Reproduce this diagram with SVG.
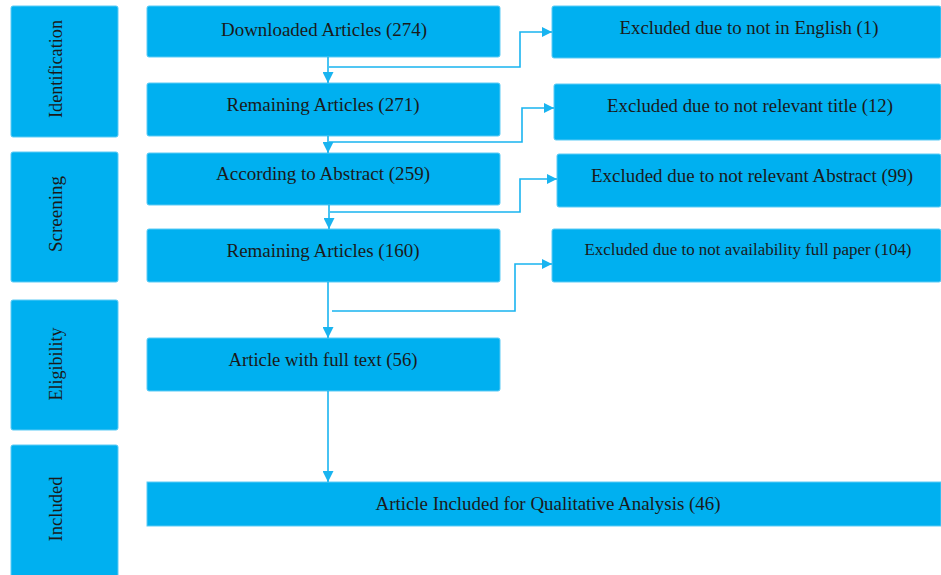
<svg xmlns="http://www.w3.org/2000/svg" width="941" height="575" viewBox="0 0 941 575">
<defs>
<style>
.box{fill:#00B0F0;stroke:#5CCBF5;stroke-width:1}
.t{font-family:"Liberation Serif","Times New Roman",serif;font-size:18.5px;fill:#1a1a1a;text-anchor:middle}
.s{font-size:16px}
.c{fill:none;stroke:#19B4F0;stroke-width:1.6}
</style>
<marker id="ah" viewBox="0 0 10 10" refX="10" refY="5" markerWidth="10" markerHeight="10" markerUnits="userSpaceOnUse" orient="auto">
<path d="M0,0 L10,5 L0,10 z" fill="#19B4F0"/>
</marker>
<marker id="ahv" viewBox="0 0 10 10" refX="10" refY="5" markerWidth="11" markerHeight="11" markerUnits="userSpaceOnUse" orient="auto">
<path d="M0,0 L10,5 L0,10 z" fill="#19B4F0"/>
</marker>
</defs>
<rect width="941" height="575" fill="#fff"/>

<g id="stage-identification">
<rect class="box" x="11" y="6" width="107" height="131" rx="2"/>
<text class="t" transform="translate(62,69) rotate(-90)" textLength="98" lengthAdjust="spacingAndGlyphs">Identification</text>
</g>
<g id="stage-screening">
<rect class="box" x="11" y="152" width="107" height="130" rx="2"/>
<text class="t" transform="translate(62,214) rotate(-90)" textLength="76" lengthAdjust="spacingAndGlyphs">Screening</text>
</g>
<g id="stage-eligibility">
<rect class="box" x="11" y="300" width="107" height="130" rx="2"/>
<text class="t" transform="translate(62,364) rotate(-90)" textLength="73" lengthAdjust="spacingAndGlyphs">Eligibility</text>
</g>
<g id="stage-included">
<rect class="box" x="11" y="445" width="107" height="135" rx="2"/>
<text class="t" transform="translate(62,509) rotate(-90)" textLength="65" lengthAdjust="spacingAndGlyphs">Included</text>
</g>

<g id="downloaded">
<rect class="box" x="147" y="6" width="353" height="51" rx="2"/>
<text class="t" x="324" y="36" textLength="206" lengthAdjust="spacingAndGlyphs">Downloaded Articles (274)</text>
</g>
<g id="remaining-271">
<rect class="box" x="147" y="83" width="353" height="53" rx="2"/>
<text class="t" x="323" y="111" textLength="193" lengthAdjust="spacingAndGlyphs">Remaining Articles (271)</text>
</g>
<g id="abstract-259">
<rect class="box" x="147" y="153" width="353" height="52" rx="2"/>
<text class="t" x="323" y="180" textLength="214" lengthAdjust="spacingAndGlyphs">According to Abstract (259)</text>
</g>
<g id="remaining-160">
<rect class="box" x="147" y="229" width="353" height="53" rx="2"/>
<text class="t" x="323" y="257" textLength="193" lengthAdjust="spacingAndGlyphs">Remaining Articles (160)</text>
</g>
<g id="fulltext-56">
<rect class="box" x="147" y="338" width="353" height="53" rx="2"/>
<text class="t" x="323" y="366" textLength="189" lengthAdjust="spacingAndGlyphs">Article with full text (56)</text>
</g>
<g id="included-46">
<rect class="box" x="147" y="482" width="794" height="44"/>
<text class="t" x="548" y="510" textLength="345" lengthAdjust="spacingAndGlyphs">Article Included for Qualitative  Analysis (46)</text>
</g>

<g id="excl-english">
<rect class="box" x="552" y="6" width="389" height="52" rx="2"/>
<text class="t" x="749" y="34" textLength="259" lengthAdjust="spacingAndGlyphs">Excluded due to not in English (1)</text>
</g>
<g id="excl-title">
<rect class="box" x="554" y="84" width="387" height="56" rx="2"/>
<text class="t" x="750" y="112" textLength="286" lengthAdjust="spacingAndGlyphs">Excluded due to not relevant title (12)</text>
</g>
<g id="excl-abstract">
<rect class="box" x="557" y="154" width="384" height="53" rx="2"/>
<text class="t" x="752" y="182" textLength="322" lengthAdjust="spacingAndGlyphs">Excluded due to not relevant Abstract (99)</text>
</g>
<g id="excl-fullpaper">
<rect class="box" x="552" y="229" width="389" height="53" rx="2"/>
<text class="t s" x="748" y="255" textLength="327" lengthAdjust="spacingAndGlyphs">Excluded due to not availability full paper (104)</text>
</g>

<g id="connectors">
<path class="c" d="M328,57 V83" marker-end="url(#ahv)"/>
<path class="c" d="M329,67 H520 V32 H552" marker-end="url(#ah)"/>
<path class="c" d="M328,136 V153" marker-end="url(#ahv)"/>
<path class="c" d="M329,142 H522 V108 H554" marker-end="url(#ah)"/>
<path class="c" d="M329,205 V229" marker-end="url(#ahv)"/>
<path class="c" d="M330,212 H520 V179 H557" marker-end="url(#ah)"/>
<path class="c" d="M328,282 V338" marker-end="url(#ahv)"/>
<path class="c" d="M332,311 H515 V264 H552" marker-end="url(#ah)"/>
<path class="c" d="M328,391 V482" marker-end="url(#ahv)"/>
</g>
</svg>
